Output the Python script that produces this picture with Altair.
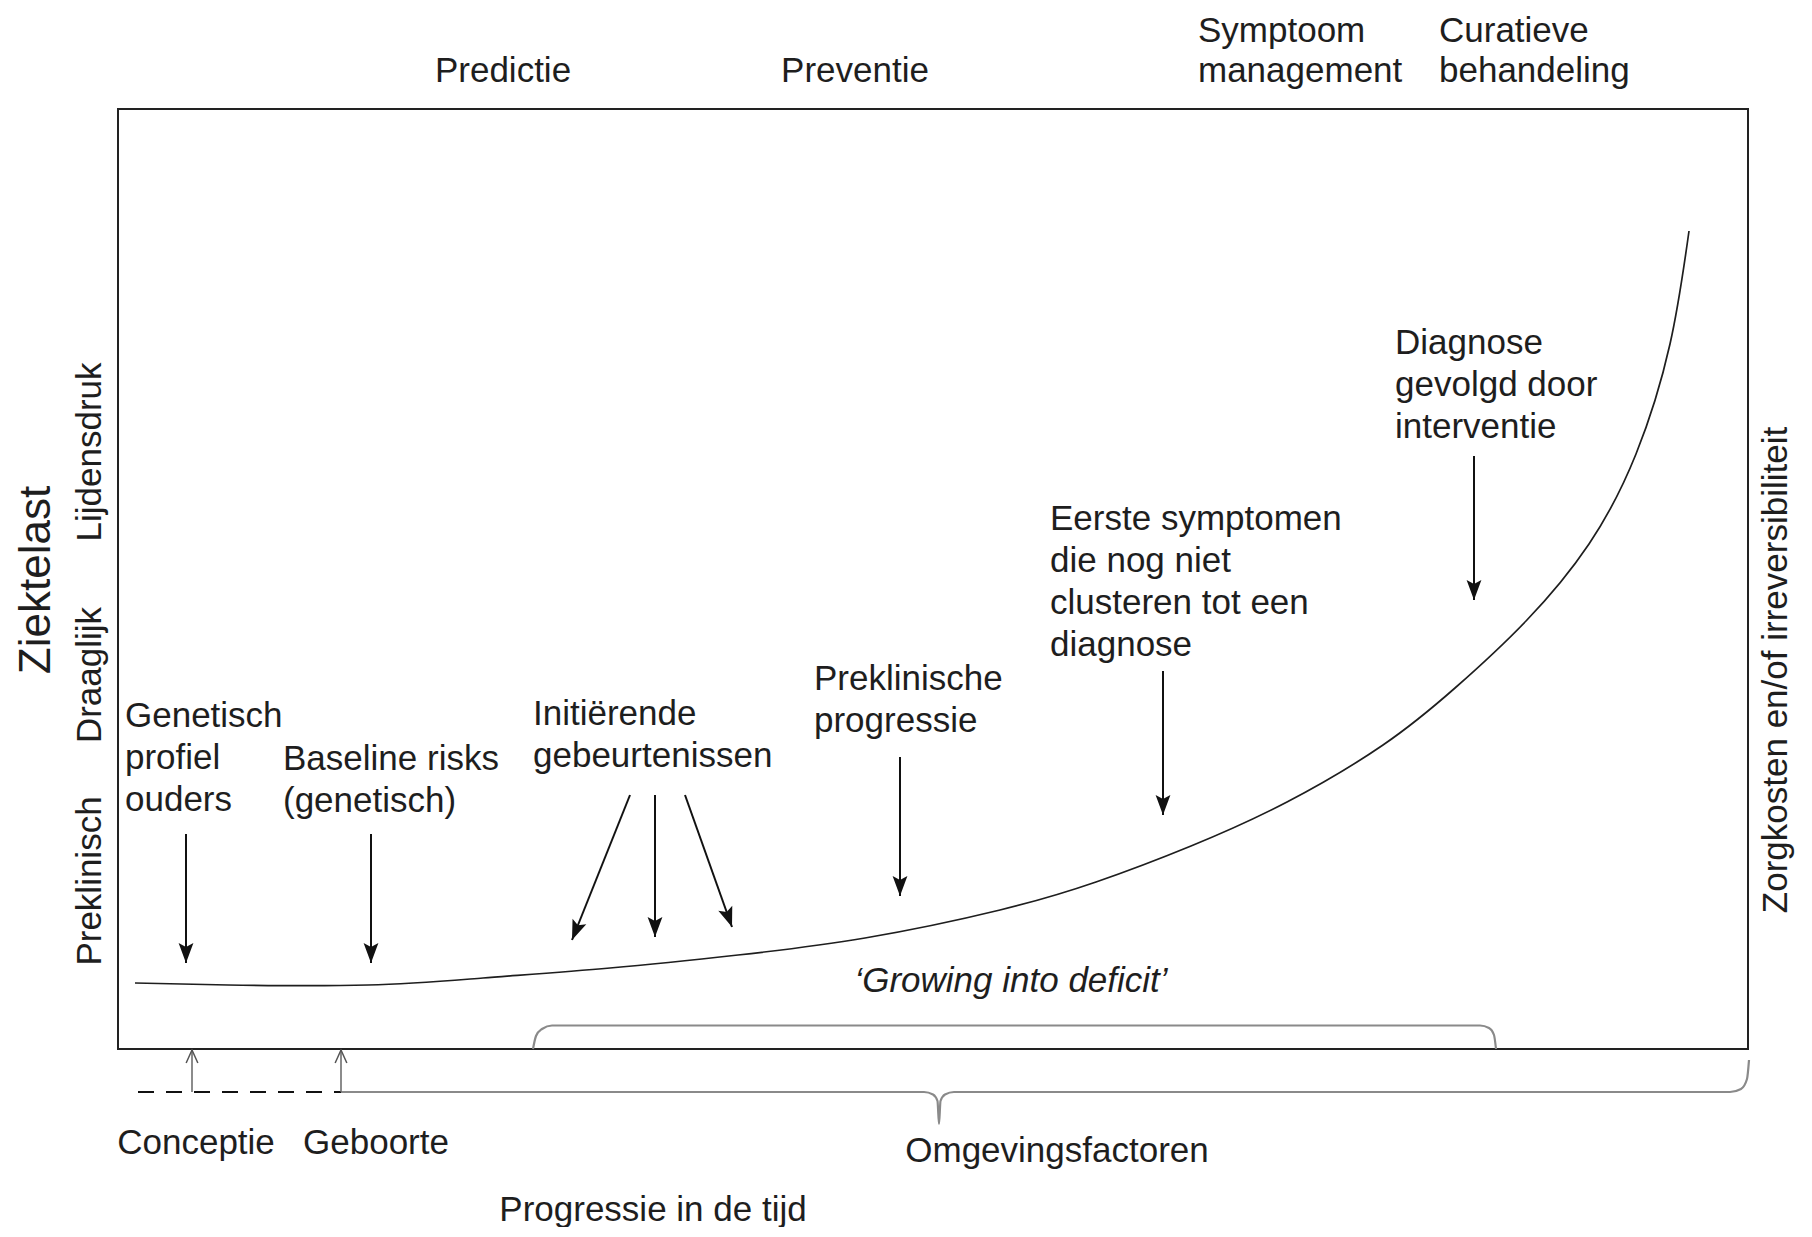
import altair as alt
import pandas as pd

# ---------------- data (diagram units: x = progressie in de tijd 0-163, y = ziektelast 0-94) ----------------
curve_x = [1.7, 11.0, 25.0, 36.5, 49.2, 62.0, 74.7, 88.2, 97.8, 107.3, 116.9, 126.5, 133.7, 140.8, 147.1, 151.8, 155.2, 157.1]
curve_y = [6.6, 6.4, 6.4, 7.1, 8.1, 9.4, 11.1, 13.9, 16.7, 20.3, 24.7, 30.4, 36.1, 42.8, 50.5, 59.5, 70.5, 81.8]

arrow_x0 = [6.8, 25.3, 51.2, 53.7, 56.7, 78.2, 104.5, 135.6]
arrow_y0 = [21.5, 21.5, 25.4, 25.4, 25.4, 29.2, 37.8, 59.3]
arrow_x1 = [6.8, 25.3, 45.4, 53.7, 61.4, 78.2, 104.5, 135.6]
arrow_y1 = [8.6, 8.6, 10.9, 11.2, 12.2, 15.3, 23.4, 44.9]

up_x = [7.4, 22.3]
up_y0 = [-4.3, -4.3]
up_y1 = [-0.1, -0.1]

dash_x = [2.0, 22.3]
dash_y = [-4.3, -4.3]

inner_brace_x = [41.5, 41.8, 42.4, 43.4, 136.2, 137.1, 137.6, 137.8]
inner_brace_y = [0.0, 1.3, 2.0, 2.35, 2.35, 2.1, 1.4, 0.0]

outer_brace_x = [22.3, 80.6, 81.5, 81.95, 82.1, 82.25, 82.7, 83.6, 161.2, 162.3, 162.9, 163.1]
outer_brace_y = [-4.3, -4.3, -4.55, -5.2, -7.5, -5.2, -4.55, -4.3, -4.3, -4.0, -3.0, -1.1]

left_labels = ["Genetisch\nprofiel\nouders", "Baseline risks\n(genetisch)", "Initiërende\ngebeurtenissen",
               "Preklinische\nprogressie", "Eerste symptomen\ndie nog niet\nclusteren tot een\ndiagnose",
               "Diagnose\ngevolgd door\ninterventie"]
left_x = [0.7, 16.5, 41.5, 69.6, 93.2, 127.7]
left_y = [32.2, 27.9, 32.4, 35.9, 51.9, 69.5]

top_labels = ["Symptoom\nmanagement", "Curatieve\nbehandeling"]
top_x = [108.0, 132.1]
top_y = [100.7, 100.7]

center_labels = ["Predictie", "Preventie", "Conceptie", "Geboorte", "Omgevingsfactoren", "Progressie in de tijd"]
center_x = [38.5, 73.7, 7.8, 25.8, 93.9, 53.5]
center_y = [96.7, 96.7, -10.5, -10.5, -11.3, -17.2]

italic_labels = ["‘Growing into deficit’"]
italic_x = [89.3]
italic_y = [5.7]

vert_labels = ["Preklinisch", "Draaglijk", "Lijdensdruk", "Zorgkosten en/of irreversibiliteit"]
vert_x = [-2.8, -2.8, -2.8, 165.8]
vert_y = [16.8, 37.4, 59.7, 37.9]

title_labels = ["Ziektelast"]
title_x = [-8.1]
title_y = [46.9]

# ---------------- chart ----------------
FONT = "Liberation Sans"
INK = "#1e1e1e"
xs = alt.Scale(domain=[0, 163], nice=False, zero=False)
ys = alt.Scale(domain=[0, 94], nice=False, zero=False)


def X(f):
    return alt.X(f, type="quantitative", scale=xs, axis=None)


def Y(f):
    return alt.Y(f, type="quantitative", scale=ys, axis=None)


curve_df = pd.DataFrame({"x": curve_x, "y": curve_y, "i": list(range(len(curve_x)))})
arrow_df = pd.DataFrame({"x0": arrow_x0, "y0": arrow_y0, "x1": arrow_x1, "y1": arrow_y1})
up_df = pd.DataFrame({"x": up_x, "y0": up_y0, "y1": up_y1})
dash_df = pd.DataFrame({"x0": [dash_x[0]], "x1": [dash_x[1]], "y": [dash_y[0]]})
brace_df = pd.concat([
    pd.DataFrame({"x": inner_brace_x, "y": inner_brace_y, "g": "inner", "i": list(range(len(inner_brace_x)))}),
    pd.DataFrame({"x": outer_brace_x, "y": outer_brace_y, "g": "outer", "i": list(range(len(outer_brace_x)))}),
])

curve = alt.Chart(curve_df).mark_line(color=INK, strokeWidth=1.7, interpolate="natural").encode(
    x=X("x"), y=Y("y"), order="i:Q")

braces = alt.Chart(brace_df).mark_line(color="#8a8a8a", strokeWidth=2.2, interpolate="monotone").encode(
    x=X("x"), y=Y("y"), detail="g:N", order="i:Q")

shafts = alt.Chart(arrow_df).mark_rule(color="#111", strokeWidth=2).encode(
    x=X("x0"), y=Y("y0"), x2=alt.X2("x1"), y2=alt.Y2("y1"))

HEAD = "M0,0L-0.37,-1L0,-0.8L0.37,-1Z"
heads = alt.Chart(arrow_df).transform_calculate(
    ang="(atan2(-(datum.x1 - datum.x0), datum.y0 - datum.y1) * 180 / PI + 360) % 360"
).mark_point(shape=HEAD, size=1600, filled=True, color="#111", opacity=1, strokeWidth=0).encode(
    x=X("x1"), y=Y("y1"), angle=alt.Angle("ang:Q", scale=None))

up_shafts = alt.Chart(up_df).mark_rule(color="#666", strokeWidth=1.5).encode(
    x=X("x"), y=Y("y0"), y2=alt.Y2("y1"))
UPHEAD = "M-0.45,1L0,0L0.45,1"
up_heads = alt.Chart(up_df).mark_point(shape=UPHEAD, size=676, filled=False, color="#555",
                                       opacity=1, strokeWidth=1.5).encode(x=X("x"), y=Y("y1"))

dashed = alt.Chart(dash_df).mark_rule(color="#111", strokeWidth=2, strokeDash=[16, 12]).encode(
    x=X("x0"), x2=alt.X2("x1"), y=Y("y"))

left_txt = alt.Chart(pd.DataFrame({"x": left_x, "y": left_y, "t": left_labels})).mark_text(
    font=FONT, fontSize=35, color=INK, align="left", baseline="alphabetic", lineBreak="\n", lineHeight=42
).encode(x=X("x"), y=Y("y"), text="t:N")

top_txt = alt.Chart(pd.DataFrame({"x": top_x, "y": top_y, "t": top_labels})).mark_text(
    font=FONT, fontSize=35, color=INK, align="left", baseline="alphabetic", lineBreak="\n", lineHeight=40
).encode(x=X("x"), y=Y("y"), text="t:N")

center_txt = alt.Chart(pd.DataFrame({"x": center_x, "y": center_y, "t": center_labels})).mark_text(
    font=FONT, fontSize=35, color=INK, align="center", baseline="alphabetic"
).encode(x=X("x"), y=Y("y"), text="t:N")

italic_txt = alt.Chart(pd.DataFrame({"x": italic_x, "y": italic_y, "t": italic_labels})).mark_text(
    font=FONT, fontSize=35, fontStyle="italic", color=INK, align="center", baseline="alphabetic"
).encode(x=X("x"), y=Y("y"), text="t:N")

vert_txt = alt.Chart(pd.DataFrame({"x": vert_x, "y": vert_y, "t": vert_labels})).mark_text(
    font=FONT, fontSize=35, color=INK, align="center", baseline="middle", angle=270
).encode(x=X("x"), y=Y("y"), text="t:N")

title_txt = alt.Chart(pd.DataFrame({"x": title_x, "y": title_y, "t": title_labels})).mark_text(
    font=FONT, fontSize=44, color=INK, align="center", baseline="middle", angle=270
).encode(x=X("x"), y=Y("y"), text="t:N")

chart = alt.layer(
    curve, braces, dashed, up_shafts, up_heads, shafts, heads,
    left_txt, top_txt, center_txt, italic_txt, vert_txt, title_txt
).properties(
    width=1630,
    height=940,
    padding={"left": 110, "top": 101, "right": 52, "bottom": 178},
    autosize=alt.AutoSizeParams(type="none"),
    background="white",
).configure_view(stroke="#222", strokeWidth=2)

chart.save("out.html", embed_options={"renderer": "svg", "actions": False})
